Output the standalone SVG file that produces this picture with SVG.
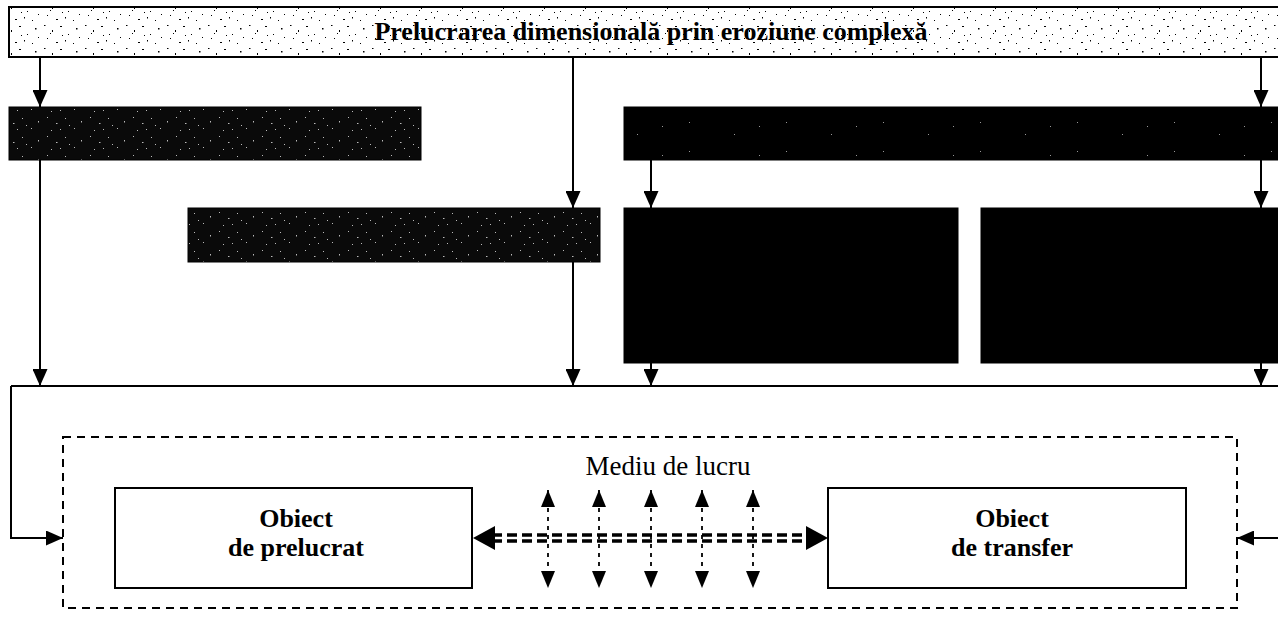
<svg xmlns="http://www.w3.org/2000/svg" width="1278" height="641" viewBox="0 0 1278 641">
<style>
.ln{stroke:#000;stroke-width:2;fill:none}
.box{stroke:#000;stroke-width:2;fill:#fff}
.dk{stroke:#000;stroke-width:1}
.lbl{font-family:"Liberation Serif","Times New Roman",serif;font-weight:bold;font-size:26px;fill:#000;text-anchor:middle}
.reg{font-family:"Liberation Serif","Times New Roman",serif;font-size:27px;fill:#000;text-anchor:middle}
.dot{stroke:#000;stroke-width:1.8;fill:none;stroke-dasharray:4 5}
.dbl{stroke:#000;stroke-width:3.5;fill:none;stroke-dasharray:10 5}
</style>
<defs>
<pattern id="speckL" width="41" height="23" patternUnits="userSpaceOnUse">
<rect width="41" height="23" fill="#fff"/>
<g fill="#000">
<rect x="3" y="2" width="1.5" height="1"/><rect x="11" y="7" width="1" height="2"/><rect x="19" y="3" width="2" height="1"/>
<rect x="27" y="11" width="1" height="1"/><rect x="35" y="5" width="1.5" height="1.5"/><rect x="6" y="15" width="1" height="1"/>
<rect x="15" y="19" width="2" height="1"/><rect x="24" y="17" width="1" height="1.5"/><rect x="32" y="20" width="1" height="1"/>
<rect x="38" y="14" width="1" height="1"/><rect x="9" y="10" width="1" height="1"/><rect x="21" y="12" width="1" height="1"/>
</g>
</pattern>
<pattern id="speckD" width="43" height="19" patternUnits="userSpaceOnUse">
<rect width="43" height="19" fill="#0a0a0a"/>
<g fill="#bbb">
<rect x="4" y="3" width="1" height="1"/><rect x="13" y="9" width="1.5" height="1"/><rect x="22" y="4" width="1" height="1"/>
<rect x="31" y="14" width="1" height="1"/><rect x="38" y="7" width="1" height="1.5"/><rect x="8" y="16" width="1" height="1"/>
<rect x="26" y="11" width="1" height="1"/><rect x="17" y="15" width="1" height="1"/>
</g>
</pattern>
<pattern id="speckS" width="97" height="29" patternUnits="userSpaceOnUse">
<rect width="97" height="29" fill="#000"/>
<g fill="#999">
<rect x="10" y="6" width="1" height="1"/><rect x="55" y="18" width="1" height="1"/><rect x="80" y="10" width="1" height="1"/>
</g>
</pattern>
<marker id="ah" viewBox="0 0 17 15" refX="17" refY="7.5" markerWidth="17" markerHeight="15" markerUnits="userSpaceOnUse" orient="auto">
<path d="M0,0 L17,7.5 L0,15 Z" fill="#000"/>
</marker>
<marker id="ahs" viewBox="0 0 17 14" refX="17" refY="7" markerWidth="17" markerHeight="14" markerUnits="userSpaceOnUse" orient="auto-start-reverse">
<path d="M0,0 L17,7 L0,14 Z" fill="#000"/>
</marker>
</defs>

<g id="banner">
<rect x="9" y="7" width="1280" height="50" fill="url(#speckL)" stroke="#000" stroke-width="2"/>
<text class="lbl" x="651" y="40">Prelucrarea dimensională prin eroziune complexă</text>
</g>
<g id="box1"><rect class="dk" x="9" y="107" width="412" height="53" fill="url(#speckD)"/></g>
<g id="box2"><rect class="dk" x="624" y="107" width="660" height="53" fill="url(#speckS)"/></g>
<g id="box3"><rect class="dk" x="188" y="208" width="412" height="54" fill="url(#speckD)"/></g>
<g id="box4"><rect class="dk" x="624" y="208" width="334" height="155" fill="#000"/></g>
<g id="box5"><rect class="dk" x="981" y="208" width="300" height="155" fill="#000"/></g>

<g id="mediu-de-lucru">
<rect x="63" y="437" width="1174" height="171" fill="none" stroke="#000" stroke-width="2" stroke-dasharray="8 6"/>
<text class="reg" x="668" y="475">Mediu de lucru</text>
</g>
<g id="obiect-de-prelucrat">
<rect class="box" x="115" y="488" width="357" height="100"/>
<text class="lbl" x="296" y="527">Obiect</text>
<text class="lbl" x="296" y="556">de prelucrat</text>
</g>
<g id="obiect-de-transfer">
<rect class="box" x="828" y="488" width="358" height="100"/>
<text class="lbl" x="1012" y="527">Obiect</text>
<text class="lbl" x="1012" y="556">de transfer</text>
</g>

<g id="connectors">
<path class="ln" d="M40,57 V107" marker-end="url(#ah)"/>
<path class="ln" d="M573,57 V208" marker-end="url(#ah)"/>
<path class="ln" d="M1261,57 V107" marker-end="url(#ah)"/>
<path class="ln" d="M651,160 V208" marker-end="url(#ah)"/>
<path class="ln" d="M1261,160 V208" marker-end="url(#ah)"/>
<path class="ln" d="M40,160 V386" marker-end="url(#ah)"/>
<path class="ln" d="M573,262 V386" marker-end="url(#ah)"/>
<path class="ln" d="M651,363 V386" marker-end="url(#ah)"/>
<path class="ln" d="M1261,363 V386" marker-end="url(#ah)"/>
<path class="ln" d="M11,386 H1280"/>
<path class="ln" d="M11,386 V538 H63" marker-end="url(#ah)"/>
<path class="ln" d="M1280,538 H1237" marker-end="url(#ah)"/>
<path class="dbl" d="M492,535 H810"/>
<path class="dbl" d="M492,541 H810"/>
<path d="M473,538 L495,526 L495,550 Z" fill="#000"/>
<path d="M828,538 L806,526 L806,550 Z" fill="#000"/>
<path class="dot" d="M548,490 V588" marker-start="url(#ahs)" marker-end="url(#ahs)"/>
<path class="dot" d="M599,490 V588" marker-start="url(#ahs)" marker-end="url(#ahs)"/>
<path class="dot" d="M651,490 V588" marker-start="url(#ahs)" marker-end="url(#ahs)"/>
<path class="dot" d="M702,490 V588" marker-start="url(#ahs)" marker-end="url(#ahs)"/>
<path class="dot" d="M753,490 V588" marker-start="url(#ahs)" marker-end="url(#ahs)"/>
</g>
</svg>
